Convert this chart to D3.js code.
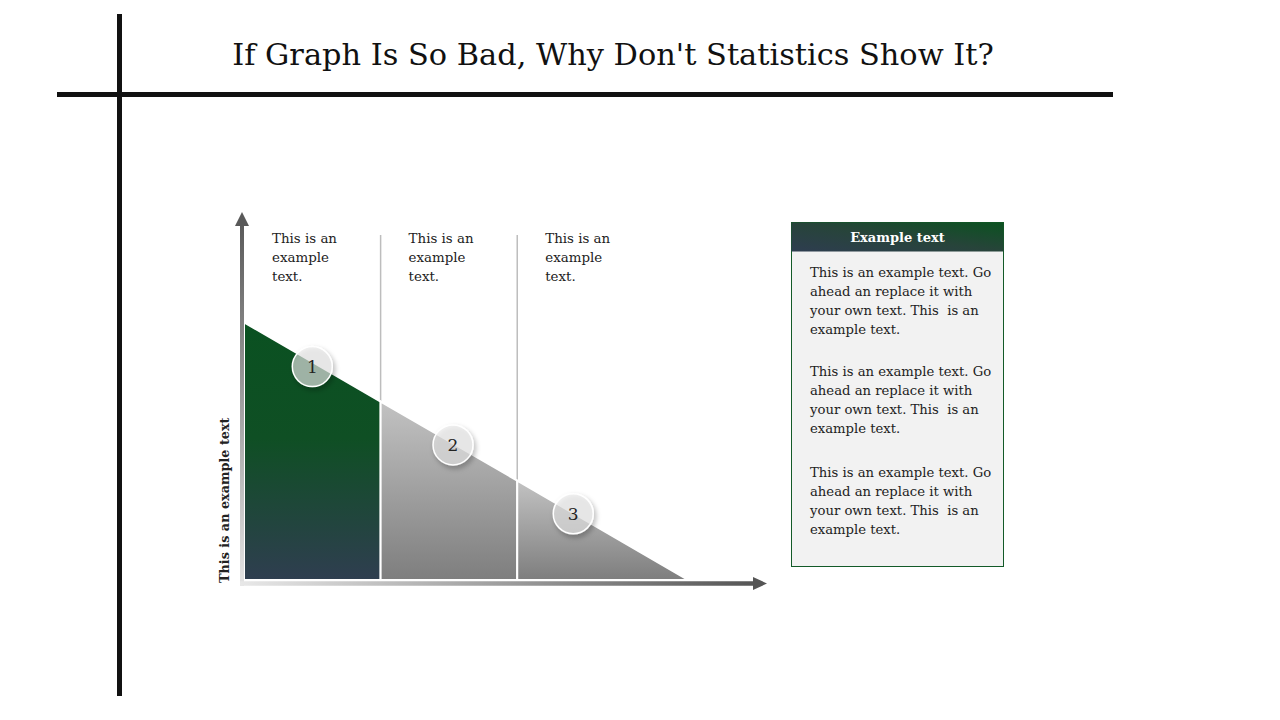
<!DOCTYPE html>
<html>
<head>
<meta charset="utf-8">
<script src="https://cdn.jsdelivr.net/npm/d3@7"></script>
<style>
  body { margin: 0; background: #fff; }
  svg { display: block; }
  text { font-family: "DejaVu Serif", "Liberation Serif", serif; }
</style>
</head>
<body>
<svg width="1280" height="720"></svg>
<script>
const title = "If Graph Is So Bad, Why Don't Statistics Show It?";
const stages = ["1", "2", "3"];
// boundaries of each stage on the x domain, and the level of the falling edge there
const stageEdges = [0, 1, 2, 3.25];
const edgeLevels = [70, 48.5, 27, 0];
// where each numbered marker sits
const markerPos = [0.5, 1.53, 2.41];
const markerLevels = [58, 36.7, 18];
const columnText = ["This is an", "example", "text."];
const yLabel = "This is an example text";
const boxTitle = "Example text";
const boxParagraphs = [
  ["This is an example text. Go", "ahead an replace it with", "your own text. This  is an", "example text."],
  ["This is an example text. Go", "ahead an replace it with", "your own text. This  is an", "example text."],
  ["This is an example text. Go", "ahead an replace it with", "your own text. This  is an", "example text."]
];

const svg = d3.select("svg");
const defs = svg.append("defs");

const grad = (id, x1, y1, x2, y2, stops) => {
  const g = defs.append("linearGradient").attr("id", id)
    .attr("x1", x1).attr("y1", y1).attr("x2", x2).attr("y2", y2);
  stops.forEach(s => g.append("stop").attr("offset", s[0]).attr("stop-color", s[1]));
};
grad("gGreen", 0, 0, 0, 1, [[0, "#0a5121"], [0.45, "#0f4f24"], [1, "#2f3e50"]]);
grad("gGray", 0, 0, 0, 1, [[0, "#c2c2c2"], [1, "#7e7e7e"]]);
grad("gYaxis", 0, 1, 0, 0, [[0, "#e4e4e4"], [1, "#5a5a5a"]]);
grad("gXaxis", 0, 0, 1, 0, [[0, "#e8e8e8"], [1, "#555"]]);
grad("gHead", 0, 1, 1, 0, [[0, "#2e3d50"], [0.5, "#27443a"], [1, "#0b5220"]]);

const shadow = defs.append("filter").attr("id", "shadow")
  .attr("x", "-50%").attr("y", "-50%").attr("width", "200%").attr("height", "200%");
shadow.append("feDropShadow").attr("dx", 2).attr("dy", 3).attr("stdDeviation", 2.5)
  .attr("flood-color", "#000").attr("flood-opacity", 0.35);

// frame lines + title
svg.append("rect").attr("x", 117).attr("y", 14).attr("width", 5).attr("height", 682).attr("fill", "#111");
svg.append("rect").attr("x", 57).attr("y", 92).attr("width", 1056).attr("height", 5).attr("fill", "#111");
svg.append("text").attr("x", 613).attr("y", 65).attr("text-anchor", "middle")
  .attr("font-size", 30.4).attr("fill", "#111").text(title);

const x = d3.scaleLinear().domain([0, 3.25]).range([244, 688]);
const y = d3.scaleLinear().domain([0, 100]).range([580, 212]);

const g = svg.append("g");

// column divider lines
g.selectAll(".div").data(stageEdges.slice(1, 3)).enter().append("line")
  .attr("x1", d => x(d)).attr("x2", d => x(d))
  .attr("y1", 235).attr("y2", y(0))
  .attr("stroke", "#bdbdbd").attr("stroke-width", 1.5);

// stage areas
const segs = stages.map((s, i) => ({
  s, x0: stageEdges[i], x1: stageEdges[i + 1], l0: edgeLevels[i], l1: edgeLevels[i + 1]
}));
g.selectAll(".seg").data(segs).enter().append("path")
  .attr("d", d => `M${x(d.x0)},${y(0)}L${x(d.x0)},${y(d.l0)}L${x(d.x1)},${y(d.l1)}L${x(d.x1)},${y(0)}Z`)
  .attr("fill", (d, i) => i === 0 ? "url(#gGreen)" : "url(#gGray)")
  .attr("stroke", "#fff").attr("stroke-width", 2).attr("stroke-linejoin", "miter");

// axes (rects so the gradients have a box)
const yx = x(0) - 2;
g.append("rect").attr("x", yx - 2).attr("y", y(100) + 10).attr("width", 4).attr("height", y(0) + 6 - y(100) - 10)
  .attr("fill", "url(#gYaxis)");
g.append("path").attr("d", `M${yx - 7},${y(100) + 14}L${yx},${y(100)}L${yx + 7},${y(100) + 14}Z`).attr("fill", "#595959");
const xy = y(0) + 3.5;
g.append("rect").attr("x", yx - 2).attr("y", xy - 2.25).attr("width", 756 - yx + 2).attr("height", 4.5)
  .attr("fill", "url(#gXaxis)");
g.append("path").attr("d", `M753,${xy - 6.5}L767,${xy}L753,${xy + 6.5}Z`).attr("fill", "#555");

// axis label
g.append("text").attr("transform", `translate(229,${y(0) + 3}) rotate(-90)`)
  .attr("font-size", 12.8).attr("font-weight", "bold").attr("fill", "#222").text(yLabel);

// column texts
const cols = g.selectAll(".col").data(stageEdges.slice(0, 3)).enter().append("text")
  .attr("x", d => x(d) + 28).attr("y", 243).attr("font-size", 13.4).attr("fill", "#222");
cols.selectAll("tspan").data(columnText).enter().append("tspan")
  .attr("x", function () { return d3.select(this.parentNode).attr("x"); })
  .attr("dy", (d, i) => i === 0 ? 0 : 19).text(d => d);

// markers
const mk = g.selectAll(".mk").data(stages).enter().append("g")
  .attr("transform", (d, i) => `translate(${x(markerPos[i])},${y(markerLevels[i])})`);
mk.append("circle").attr("r", 20).attr("fill", "#e8e8e8").attr("fill-opacity", 0.62)
  .attr("stroke", "#fff").attr("stroke-width", 1.5).attr("filter", "url(#shadow)");
mk.append("text").attr("text-anchor", "middle").attr("dy", 6.5).attr("font-size", 17)
  .attr("fill", "#222").text(d => d);

// side box
const bx = 791.5, by = 222.5, bw = 212, bh = 344;
svg.append("rect").attr("x", bx).attr("y", by).attr("width", bw).attr("height", bh)
  .attr("fill", "#f2f2f2").attr("stroke", "#135a28").attr("stroke-width", 1);
svg.append("rect").attr("x", bx).attr("y", by).attr("width", bw).attr("height", 29).attr("fill", "url(#gHead)");
svg.append("text").attr("x", bx + bw / 2).attr("y", by + 19.5).attr("text-anchor", "middle")
  .attr("font-size", 13).attr("font-weight", "bold").attr("fill", "#fff").text(boxTitle);
const paraTop = [277, 376, 477];
boxParagraphs.forEach((p, i) => {
  const t = svg.append("text").attr("x", 810).attr("y", paraTop[i]).attr("font-size", 13.2).attr("fill", "#222");
  t.selectAll("tspan").data(p).enter().append("tspan").attr("x", 810)
    .attr("dy", (d, j) => j === 0 ? 0 : 19).attr("xml:space", "preserve").text(d => d);
});
</script>
</body>
</html>
